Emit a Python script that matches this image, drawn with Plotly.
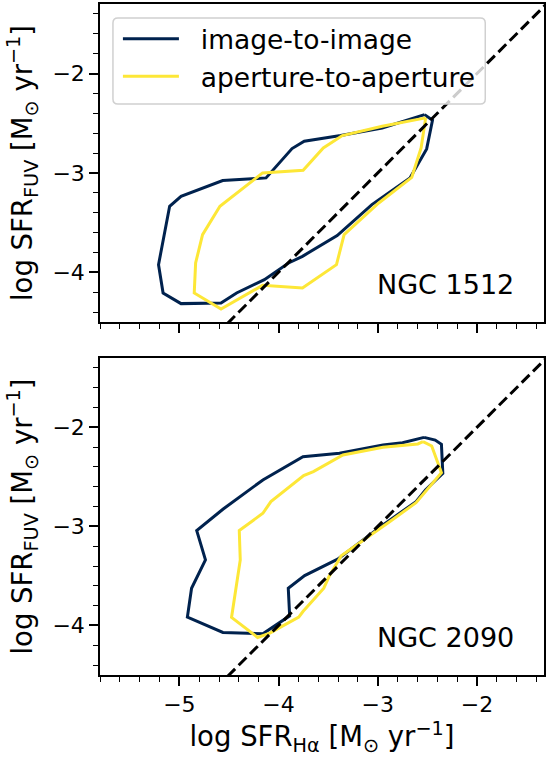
import plotly.graph_objects as go

# Contour outlines in (log SFR_Halpha, log SFR_FUV)
i2i_1512_x = [-2.528, -2.448, -2.507, -2.675, -3.059, -3.409, -3.759, -3.899, -4.143, -4.423, -4.580,
              -4.983, -5.164, -5.210, -5.098, -4.983, -4.563, -4.126, -3.864, -3.741, -3.374, -2.955, -2.528]
i2i_1512_y = [-2.413, -2.470, -2.758, -3.050, -3.319, -3.631, -3.839, -3.906, -4.074, -4.208, -4.309,
              -4.315, -4.208, -3.923, -3.336, -3.235, -3.077, -3.050, -2.755, -2.681, -2.624, -2.547, -2.413]

a2a_1512_x = [-2.517, -2.563, -2.657, -2.990, -3.339, -3.416, -3.759, -4.161, -4.580, -4.850,
              -4.836, -4.766, -4.591, -4.161, -3.752, -3.549, -3.357, -2.955, -2.517]
a2a_1512_y = [-2.446, -2.748, -3.044, -3.302, -3.621, -3.923, -4.158, -4.131, -4.369, -4.208,
              -3.906, -3.621, -3.336, -3.000, -2.973, -2.748, -2.624, -2.530, -2.446]

i2i_2090_x = [-2.533, -2.421, -2.358, -2.344, -2.519, -2.614, -2.947, -3.404, -3.737, -3.902, -3.888,
              -4.158, -4.561, -4.919, -4.877, -4.737, -4.825, -4.561, -4.158, -3.754, -3.386, -2.947,
              -2.750, -2.533]
i2i_2090_y = [-2.101, -2.128, -2.171, -2.464, -2.632, -2.750, -2.985, -3.331, -3.496, -3.624, -3.903,
              -4.084, -4.071, -3.916, -3.624, -3.338, -3.042, -2.827, -2.531, -2.296, -2.262, -2.178,
              -2.155, -2.101]

a2a_2090_x = [-2.544, -2.456, -2.358, -2.544, -2.614, -2.877, -3.263, -3.368, -3.491, -3.544, -3.754,
              -3.796, -4.088, -4.211, -4.474, -4.386, -4.396, -4.158, -4.077, -3.747, -3.649, -3.351,
              -2.947, -2.596, -2.544]
a2a_2090_y = [-2.145, -2.188, -2.457, -2.682, -2.760, -2.951, -3.220, -3.297, -3.506, -3.624, -3.859,
              -3.916, -4.077, -4.121, -3.919, -3.338, -3.042, -2.867, -2.750, -2.487, -2.447, -2.279,
              -2.202, -2.168, -2.145]

one_to_one = [-6.0, -1.0]
galaxy_names = ["NGC 1512", "NGC 2090"]
series_names = ["image-to-image", "aperture-to-aperture"]

NAVY = "#00224e"
YELLOW = "#fde737"
FONT = "DejaVu Sans"
W, H = 547, 757
ML, MR, MT, MB = 100, 1, 4, 82
PW, PH = W - ML - MR, H - MT - MB

fig = go.Figure()

panels = [
    ("x", "y", i2i_1512_x, i2i_1512_y, a2a_1512_x, a2a_1512_y, True),
    ("x2", "y2", i2i_2090_x, i2i_2090_y, a2a_2090_x, a2a_2090_y, False),
]
for xa, ya, ix, iy, ax_, ay_, show in panels:
    fig.add_trace(go.Scatter(x=ix, y=iy, xaxis=xa, yaxis=ya, mode="lines",
                             line=dict(color=NAVY, width=3),
                             name="\u00a0\u00a0" + series_names[0], legendgroup="i2i",
                             showlegend=show, legendrank=1))
    fig.add_trace(go.Scatter(x=ax_, y=ay_, xaxis=xa, yaxis=ya, mode="lines",
                             line=dict(color=YELLOW, width=3),
                             name="\u00a0\u00a0" + series_names[1], legendgroup="a2a",
                             showlegend=show, legendrank=2))
    fig.add_trace(go.Scatter(x=one_to_one, y=one_to_one, xaxis=xa, yaxis=ya, mode="lines",
                             line=dict(color="black", width=3, dash="11px,5px"),
                             showlegend=False, hoverinfo="skip"))

xrange = [-5.8, -1.324]
yrange = [-4.5, -1.3]
top_dom = [(PH - 318) / PH, 1.0]
bot_dom = [0.0, 317 / PH]
TICKFONT = dict(family=FONT, size=22, color="black")
TITLEFONT = dict(family=FONT, size=27.5, color="black")
MINOR = dict(dtick=0.2, tick0=0, ticks="outside", ticklen=5, tickwidth=1.3,
             tickcolor="black", showgrid=False)

def xaxis(anchor, labels, title=None):
    d = dict(range=xrange, anchor=anchor, domain=[0, 1], showline=True, linecolor="black",
             linewidth=1.5, mirror=True, ticks="outside", ticklen=9, tickwidth=1.5,
             tickcolor="black", dtick=1, tick0=0, showgrid=False, zeroline=False,
             showticklabels=labels, tickfont=TICKFONT, minor=MINOR)
    if title:
        d["title"] = dict(text=title, font=TITLEFONT, standoff=11)
    return d

def yaxis(anchor, dom):
    return dict(range=yrange, anchor=anchor, domain=dom, showline=True, linecolor="black",
                linewidth=1.5, mirror=True, ticks="outside", ticklen=9, tickwidth=1.5,
                tickcolor="black", dtick=1, tick0=0, showgrid=False, zeroline=False,
                tickfont=TICKFONT, minor=MINOR,
                title=dict(text="log SFR<sub>FUV</sub> [M<sub>⊙</sub> yr<sup>−1</sup>]",
                           font=TITLEFONT, standoff=12))

# rounded, semi-transparent legend frame
lx0, lx1, ly0, ly1, r = 113, 487, 18, 104, 5
def px(x):
    return (x - ML) / PW
def py(y):
    return (H - MB - y) / PH
path = (f"M {px(lx0 + r)},{py(ly0)} L {px(lx1 - r)},{py(ly0)} Q {px(lx1)},{py(ly0)} {px(lx1)},{py(ly0 + r)} "
        f"L {px(lx1)},{py(ly1 - r)} Q {px(lx1)},{py(ly1)} {px(lx1 - r)},{py(ly1)} "
        f"L {px(lx0 + r)},{py(ly1)} Q {px(lx0)},{py(ly1)} {px(lx0)},{py(ly1 - r)} "
        f"L {px(lx0)},{py(ly0 + r)} Q {px(lx0)},{py(ly0)} {px(lx0 + r)},{py(ly0)} Z")

annotations = []
for name, xa, ya in zip(galaxy_names, ["x", "x2"], ["y", "y2"]):
    annotations.append(dict(x=-1.61, y=-4.12, xref=xa, yref=ya,
                            text=name, showarrow=False, xanchor="right", yanchor="middle",
                            font=dict(family=FONT, size=27, color="black")))

fig.update_layout(
    width=W, height=H, margin=dict(l=ML, r=MR, t=MT, b=MB),
    paper_bgcolor="white", plot_bgcolor="white",
    xaxis=xaxis("y", False),
    yaxis=yaxis("x", top_dom),
    xaxis2=xaxis("y2", True, "log SFR<sub>Hα</sub> [M<sub>⊙</sub> yr<sup>−1</sup>]"),
    yaxis2=yaxis("x2", bot_dom),
    shapes=[dict(type="path", path=path, xref="paper", yref="paper", layer="above",
                 fillcolor="rgba(255,255,255,0.8)", line=dict(color="#d0d0d0", width=1.5))],
    legend=dict(x=px(118), y=py(15), xanchor="left", yanchor="top", bgcolor="rgba(0,0,0,0)",
                font=dict(family=FONT, size=26.5, color="black"), itemwidth=56,
                tracegroupgap=3, traceorder="normal"),
    annotations=annotations,
    showlegend=True,
)

fig.write_html("out.html")
